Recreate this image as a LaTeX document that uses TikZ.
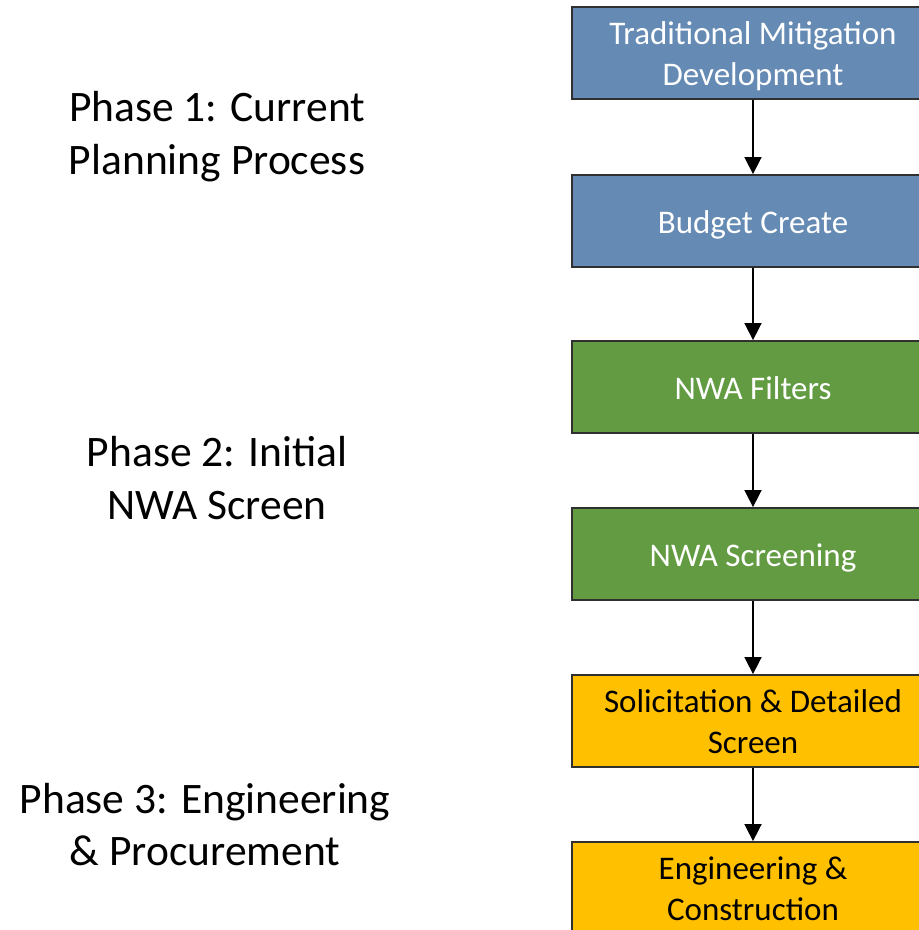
\documentclass[tikz,border=0pt]{standalone}
\usepackage{fontspec}
\setmainfont{Carlito}
\usetikzlibrary{arrows.meta}
\definecolor{boxblue}{HTML}{658AB4}
\definecolor{boxgreen}{HTML}{629B42}
\definecolor{boxyellow}{HTML}{FFC000}
\definecolor{edgegray}{HTML}{303030}
\newcommand\lines[2]{\raisebox{0pt}[\dimexpr\height+#1\relax][\depth]{\begin{tabular}{@{}c@{}}#2\end{tabular}}}
\tikzset{
  stepbox/.style={draw=edgegray, line width=1.8pt, minimum width=362pt, minimum height=92pt,
    inner sep=0pt, font=\fontsize{33}{41}\selectfont},
  bluebox/.style={stepbox, fill=boxblue, text=white},
  greenbox/.style={stepbox, fill=boxgreen, text=white},
  yellowbox/.style={stepbox, fill=boxyellow, text=black},
  phase/.style={inner sep=0pt, font=\fontsize{43.5}{52.5}\selectfont, text=black},
  flow/.style={line width=1.6pt, -{Triangle[width=17pt,length=17pt]}}
}
\begin{document}
\begin{tikzpicture}[x=1pt,y=-1pt]
\useasboundingbox (0,0) rectangle (919,930);
\clip (0,0) rectangle (919,930);
\node[bluebox] (b1) at (753,53) {\lines{8pt}{Traditional Mitigation\\Development}};
\node[bluebox] (b2) at (753,221) {\lines{8pt}{Budget Create}};
\node[greenbox] (b3) at (753,387) {\lines{8pt}{NWA Filters}};
\node[greenbox] (b4) at (753,554) {\lines{8pt}{NWA Screening}};
\node[yellowbox] (b5) at (753,721) {\lines{8pt}{Solicitation \& Detailed\\Screen}};
\node[yellowbox] (b6) at (753,888) {\lines{8pt}{Engineering \&\\Construction}};
\draw[flow] (b1) -- (b2);
\draw[flow] (b2) -- (b3);
\draw[flow] (b3) -- (b4);
\draw[flow] (b4) -- (b5);
\draw[flow] (b5) -- (b6);
\node[phase] (p1) at (217,132.5) {\lines{10pt}{Phase 1: Current\\Planning Process}};
\node[phase] (p2) at (217,477.5) {\lines{10pt}{Phase 2: Initial\\NWA Screen}};
\node[phase] (p3) at (205,824) {\lines{10pt}{Phase 3: Engineering\\\& Procurement}};
\end{tikzpicture}
\end{document}
